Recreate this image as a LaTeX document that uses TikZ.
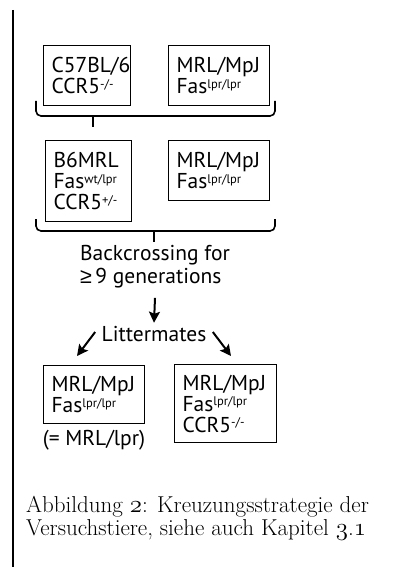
\documentclass[tikz,border=0pt]{standalone}
\usepackage{fontspec}
\newfontfamily\diagfont{PT Sans}
\newfontfamily\geqfont{Liberation Sans}
\usetikzlibrary{arrows.meta}
\newcommand{\osn}[1]{{\usefont{OML}{cmm}{m}{it}#1}}
\newcommand{\geno}[1]{\raisebox{0.5ex}{\fontsize{12.5}{12.5}\selectfont #1}}

\begin{document}
\begin{tikzpicture}[x=1pt, y=-1pt, >={Stealth[length=11pt,width=11pt,inset=2pt]},
    mouse/.style={draw, line width=1.2pt, inner xsep=8pt, inner ysep=0pt,
      align=left, anchor=north west, font=\diagfont\fontsize{21.5}{21}\selectfont},
    plain/.style={align=left, font=\diagfont\fontsize{21.5}{23}\selectfont},
    bracket/.style={line width=1.6pt, rounded corners=5pt},
    arr/.style={->, line width=2pt}]
    \useasboundingbox (0,0) rectangle (408,567);

    % Margin rule
    \draw[line width=2.4pt] (13,10) -- (13,567);

    % Parental strains
    \node[mouse, text width=71pt, minimum height=60pt] (c57) at (43,45) {C57BL/6\\CCR5\geno{-/-}};
    \node[mouse, text width=85pt, minimum height=60pt] (mrlA) at (168,45) {MRL/MpJ\\Fas\geno{lpr/lpr}};
    \draw[bracket] (36,101) |- (275,116) -- (275,101);
    \draw[line width=1.6pt] (93,116) -- (93,127);

    % F1 generation crossed back
    \node[mouse, text width=70pt, minimum height=81pt] (b6mrl) at (45,140) {B6MRL\\Fas\geno{wt/lpr}\\CCR5\geno{+/-}};
    \node[mouse, text width=85pt, minimum height=60pt] (mrlB) at (168,140) {MRL/MpJ\\Fas\geno{lpr/lpr}};
    \draw[bracket] (36,219) |- (275,231) -- (275,219);
    \draw[line width=1.6pt] (154,231) -- (154,242);

    \node[plain] (back) at (155,267) {Backcrossing for\\{\geqfont ≥}\,9 generations};
    \node[plain] (litter) at (154,334) {Littermates};
    \draw[arr] (back.south) ++(0,6) coordinate (down) -- (litter.north);

    % Offspring
    \coordinate (toWt) at (77,356);
    \coordinate (toKo) at (231,356);
    \draw[arr] (litter.west) ++(-3,-2) -- (toWt);
    \draw[arr] (litter.east) ++(3,-2) -- (toKo);
    \node[mouse, text width=85pt, minimum height=58pt] (wt) at (43,365) {MRL/MpJ\\Fas\geno{lpr/lpr}};
    \node[plain] (alias) at (94,440) {(= MRL/lpr)};
    \node[mouse, text width=86pt, minimum height=78pt] (ko) at (174,364) {MRL/MpJ\\Fas\geno{lpr/lpr}\\CCR5\geno{-/-}};

    % Caption
    \node[anchor=north west, inner sep=0pt, align=left, font=\fontsize{23}{23}\selectfont] (cap) at (26,496)
      {Abbildung \osn{2}: Kreuzungsstrategie der\\Versuchstiere, siehe auch Kapitel \osn{3}.\osn{1}};
\end{tikzpicture}
\end{document}
